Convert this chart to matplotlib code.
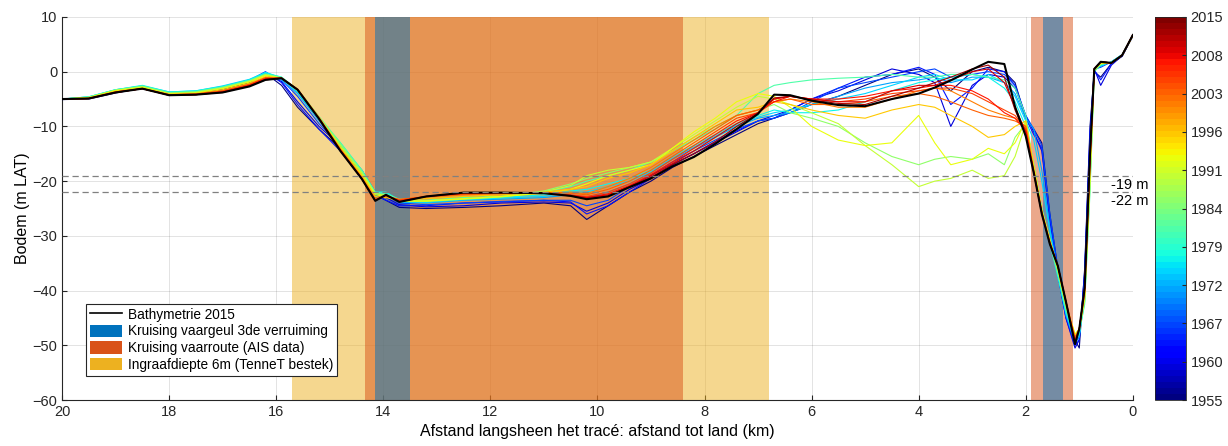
import numpy as np
import matplotlib
matplotlib.use("Agg")
import matplotlib.pyplot as plt
from matplotlib.lines import Line2D
from matplotlib.patches import Patch
from matplotlib.colors import Normalize
from matplotlib.cm import ScalarMappable

plt.rcParams['font.family'] = ['Liberation Sans', 'DejaVu Sans']

# afstand tot land (km)
dist = [20.0, 19.5, 19.0, 18.5, 18.0, 17.5, 17.0, 16.5, 16.2, 15.9,
        15.6, 15.2, 14.8, 14.4, 14.15, 13.95, 13.7, 13.2, 12.5, 11.8,
        11.0, 10.5, 10.2, 9.8, 9.4, 9.0, 8.6, 8.2, 7.8, 7.4,
        7.0, 6.7, 6.4, 6.0, 5.5, 5.0, 4.5, 4.0, 3.7, 3.4,
        3.0, 2.7, 2.4, 2.2, 2.0, 1.85, 1.7, 1.55, 1.4, 1.25,
        1.08, 1.0, 0.9, 0.8, 0.72, 0.6, 0.4, 0.2, 0.0]

# survey years (kleur)
years = [1955, 1960, 1964, 1967, 1972, 1975, 1977, 1982, 1986, 1990,
         1993, 1997, 2001, 2003, 2005, 2008, 2010, 2013]

p1955 = [-5.1, -5.0, -3.9, -3.0, -4.0, -3.9, -3.3, -2.0, -0.3, -2.5,
         -6.5, -10.5, -14.0, -18.5, -22.5, -23.5, -24.8, -25.0, -24.8, -24.5,
         -24.0, -24.5, -27.0, -24.5, -22.0, -20.0, -17.5, -15.5, -13.5, -11.5,
         -9.5, -8.5, -7.5, -6.0, -4.5, -2.5, -0.5, 0.5, -1.0, -3.5,
         0.0, 0.8, 0.0, -2.0, -8.5, -10.5, -13.0, -26.0, -36.0, -44.0,
         -49.0, -50.5, -36.0, -10.0, 0.0, -1.0, 1.5, 2.8, 6.5]
p1960 = [-5.0, -4.9, -3.7, -3.1, -4.1, -3.8, -3.2, -1.8, -0.2, -1.8,
         -5.5, -10.0, -13.5, -18.0, -22.0, -23.0, -24.3, -24.7, -24.5, -24.0,
         -23.8, -24.0, -25.5, -24.0, -21.5, -19.5, -17.0, -15.0, -13.0, -11.0,
         -9.0, -8.0, -7.0, -5.0, -3.5, -1.5, 0.5, -0.5, -2.0, -10.0,
         -2.5, -0.5, -1.0, -3.0, -8.0, -11.0, -14.5, -27.0, -37.0, -45.0,
         -50.5, -49.0, -37.0, -12.0, 0.5, -2.5, 1.2, 2.9, 6.6]
p1964 = [-5.0, -4.8, -3.6, -3.0, -4.0, -3.8, -3.1, -1.6, 0.0, -2.0,
         -6.0, -10.5, -14.5, -18.5, -22.5, -23.5, -24.5, -24.5, -24.0, -23.8,
         -23.5, -23.8, -26.0, -24.5, -22.0, -19.5, -17.0, -15.0, -12.8, -10.8,
         -9.0, -8.5, -7.0, -5.0, -3.0, -1.0, -0.5, 0.8, -0.5, -6.0,
         -3.0, 0.5, 0.0, -2.5, -8.5, -11.5, -14.0, -26.5, -37.0, -45.0,
         -50.0, -49.0, -36.5, -11.0, 0.3, -1.5, 1.5, 2.9, 6.6]
p1967 = [-5.0, -4.8, -3.6, -3.0, -4.0, -3.7, -3.0, -1.7, -0.6, -1.5,
         -4.5, -9.5, -13.5, -18.5, -22.5, -22.5, -24.0, -24.3, -24.0, -23.7,
         -23.5, -23.5, -24.5, -23.5, -21.0, -19.0, -16.5, -14.5, -12.5, -10.5,
         -9.0, -8.5, -7.5, -5.5, -3.0, -2.0, -1.0, 0.0, 0.5, -1.0,
         -0.5, 0.0, -0.5, -2.5, -8.0, -10.5, -13.5, -26.0, -36.0, -44.0,
         -49.5, -48.5, -38.0, -14.0, 0.5, 0.8, 1.8, 3.0, 6.6]
p1972 = [-5.0, -4.7, -3.5, -2.8, -3.9, -3.6, -2.8, -1.5, -0.3, -1.5,
         -4.0, -9.0, -13.5, -18.5, -22.5, -22.5, -23.8, -24.0, -23.5, -23.3,
         -23.0, -22.5, -23.0, -22.0, -20.5, -18.5, -16.0, -14.0, -12.0, -10.0,
         -8.5, -8.0, -7.5, -6.0, -4.5, -3.0, -2.0, -1.5, -1.0, -2.0,
         -1.0, -1.0, -2.0, -4.0, -8.5, -10.5, -18.0, -28.5, -37.0, -44.5,
         -49.5, -48.5, -40.0, -16.0, 0.3, 1.0, 1.8, 3.1, 6.6]
p1975 = [-5.0, -4.6, -3.3, -2.6, -3.7, -3.5, -2.6, -1.4, -0.1, -1.2,
         -3.8, -8.8, -13.3, -18.2, -22.2, -22.2, -23.8, -23.9, -23.4, -23.1,
         -22.8, -22.0, -22.0, -21.0, -20.0, -18.3, -15.8, -13.8, -11.8, -9.8,
         -8.3, -7.5, -7.0, -6.0, -5.0, -4.0, -2.5, -1.0, -0.5, -1.5,
         -1.5, -0.5, -2.0, -4.5, -9.0, -12.5, -20.0, -29.0, -37.0, -44.0,
         -49.0, -48.0, -41.0, -18.0, 0.4, 1.1, 1.8, 3.1, 6.6]
p1977 = [-5.0, -4.6, -3.3, -2.5, -3.7, -3.5, -2.7, -1.5, -0.2, -1.0,
         -3.5, -8.5, -13.0, -18.0, -22.0, -22.0, -23.5, -23.7, -23.3, -23.0,
         -22.5, -21.8, -21.5, -20.5, -19.5, -18.0, -15.5, -13.5, -11.5, -9.5,
         -8.0, -7.0, -7.5, -7.5, -7.0, -5.5, -3.5, -2.0, -1.5, -1.0,
         -0.5, -1.0, -3.0, -5.5, -10.0, -17.0, -25.0, -31.0, -37.5, -44.0,
         -49.0, -48.0, -42.0, -20.0, 0.5, 1.2, 1.8, 3.1, 6.6]
p1982 = [-5.0, -4.6, -3.3, -2.6, -3.8, -3.6, -2.8, -1.6, -0.4, -1.0,
         -3.2, -8.2, -13.0, -18.0, -22.0, -22.3, -23.3, -23.5, -23.0, -22.8,
         -22.0, -21.0, -20.0, -19.0, -18.0, -16.5, -14.5, -12.5, -10.5, -8.0,
         -4.0, -2.5, -2.0, -1.5, -1.2, -1.0, -0.5, -1.0, -1.0, -0.5,
         -0.5, -1.0, -1.5, -3.0, -8.0, -17.5, -26.0, -31.5, -37.0, -43.5,
         -48.5, -47.5, -42.5, -22.0, 0.0, 1.3, 1.7, 3.0, 6.6]
p1986 = [-5.0, -4.7, -3.4, -2.7, -3.9, -3.7, -2.9, -1.7, -0.5, -1.1,
         -3.3, -8.3, -13.2, -18.3, -22.2, -22.5, -23.5, -23.6, -23.2, -22.8,
         -21.8, -20.5, -19.5, -18.5, -17.5, -16.5, -14.5, -12.0, -10.0, -8.0,
         -7.0, -6.0, -7.5, -8.5, -10.0, -13.0, -15.5, -17.0, -16.0, -15.5,
         -16.0, -15.0, -17.0, -12.0, -9.5, -17.0, -25.5, -31.0, -36.5, -43.0,
         -48.5, -47.0, -42.0, -21.0, 0.2, 1.4, 1.7, 3.0, 6.6]
p1990 = [-5.0, -4.7, -3.4, -2.8, -4.0, -3.8, -3.0, -1.8, -0.6, -1.2,
         -3.4, -8.5, -13.5, -18.5, -22.3, -22.6, -23.6, -23.7, -23.3, -22.9,
         -22.0, -20.8, -19.0, -18.0, -17.5, -16.5, -14.0, -11.5, -9.0, -6.5,
         -4.5, -5.0, -6.0, -7.5, -9.5, -13.5, -17.0, -21.0, -20.0, -19.5,
         -18.0, -19.5, -19.0, -15.5, -9.5, -17.0, -25.0, -30.5, -36.0, -42.5,
         -48.0, -47.0, -41.5, -20.0, 0.3, 1.5, 1.6, 3.0, 6.6]
p1993 = [-5.0, -4.8, -3.5, -2.9, -4.1, -3.9, -3.1, -1.9, -0.7, -1.2,
         -3.4, -8.5, -13.8, -18.8, -22.5, -22.8, -23.7, -23.6, -23.2, -22.8,
         -22.2, -21.5, -20.5, -19.0, -18.0, -17.0, -14.0, -11.0, -8.5, -5.5,
         -4.0, -4.5, -6.5, -10.0, -12.5, -13.5, -13.0, -8.0, -13.0, -17.0,
         -16.0, -14.0, -15.0, -13.0, -9.0, -17.5, -25.5, -31.0, -36.0, -42.5,
         -48.0, -47.0, -41.0, -19.0, 0.4, 1.5, 1.6, 3.0, 6.6]
p1997 = [-5.0, -4.8, -3.6, -3.0, -4.1, -4.0, -3.3, -2.1, -0.9, -1.2,
         -3.2, -8.3, -14.0, -19.0, -22.8, -23.0, -23.5, -23.2, -22.8, -22.5,
         -22.0, -21.5, -21.0, -19.5, -18.5, -17.0, -14.5, -12.0, -9.5, -7.0,
         -6.5, -5.5, -6.0, -7.0, -8.0, -8.5, -7.0, -6.0, -6.5, -8.0,
         -10.0, -12.0, -11.5, -10.0, -9.0, -17.5, -25.5, -31.0, -36.0, -42.5,
         -48.5, -47.0, -41.0, -18.0, 0.5, 1.6, 1.6, 3.0, 6.6]
p2001 = [-5.0, -4.9, -3.7, -3.1, -4.2, -4.1, -3.5, -2.3, -1.1, -1.2,
         -3.2, -8.4, -14.2, -19.3, -23.2, -22.8, -23.3, -22.9, -22.5, -22.3,
         -22.2, -22.0, -22.3, -21.0, -19.5, -17.5, -15.0, -12.5, -10.0, -8.0,
         -7.0, -5.5, -5.0, -5.5, -6.5, -6.5, -5.0, -3.5, -3.0, -3.5,
         -5.5, -7.0, -8.0, -8.5, -10.0, -18.0, -25.5, -31.0, -35.5, -42.0,
         -48.5, -47.0, -40.5, -17.0, 0.5, 1.7, 1.6, 3.0, 6.7]
p2003 = [-5.0, -4.9, -3.7, -3.1, -4.2, -4.1, -3.5, -2.3, -1.1, -1.2,
         -3.2, -8.5, -14.2, -19.4, -23.3, -22.7, -23.4, -22.8, -22.4, -22.2,
         -22.1, -22.2, -22.5, -21.5, -20.0, -18.0, -15.5, -13.0, -10.5, -8.0,
         -7.0, -5.5, -5.0, -6.0, -6.0, -5.5, -4.5, -4.0, -4.5, -5.5,
         -7.0, -8.0, -8.5, -9.0, -10.0, -18.2, -25.7, -31.2, -35.5, -42.0,
         -48.8, -47.0, -40.3, -16.5, 0.5, 1.7, 1.6, 3.0, 6.7]
p2005 = [-5.0, -4.9, -3.7, -3.1, -4.2, -4.1, -3.6, -2.4, -1.2, -1.2,
         -3.2, -8.5, -14.3, -19.5, -23.4, -22.6, -23.5, -22.8, -22.3, -22.2,
         -22.2, -22.5, -22.8, -22.0, -20.5, -18.5, -16.0, -13.5, -11.0, -8.5,
         -7.5, -5.0, -4.5, -5.0, -5.5, -5.0, -4.0, -3.5, -3.0, -3.0,
         -4.0, -5.5, -7.0, -8.0, -10.5, -18.3, -25.8, -31.3, -35.5, -42.0,
         -49.0, -47.0, -40.0, -16.0, 0.5, 1.8, 1.6, 3.0, 6.7]
p2008 = [-5.0, -4.9, -3.8, -3.1, -4.3, -4.2, -3.7, -2.5, -1.3, -1.2,
         -3.3, -8.6, -14.4, -19.6, -23.5, -22.6, -23.6, -22.8, -22.2, -22.1,
         -22.2, -22.6, -23.0, -22.3, -20.8, -18.8, -16.5, -14.0, -11.5, -9.0,
         -7.5, -5.5, -4.5, -5.0, -5.0, -4.5, -3.5, -3.0, -2.5, -2.5,
         -3.5, -5.0, -7.5, -8.5, -10.8, -18.4, -25.9, -31.4, -35.5, -42.0,
         -49.2, -47.0, -39.8, -15.8, 0.5, 1.8, 1.6, 3.0, 6.7]
p2010 = [-5.0, -4.9, -3.8, -3.1, -4.3, -4.2, -3.7, -2.6, -1.4, -1.2,
         -3.3, -8.6, -14.4, -19.6, -23.5, -22.5, -23.7, -22.8, -22.2, -22.1,
         -22.2, -22.6, -23.0, -22.5, -21.0, -19.0, -16.8, -14.5, -12.0, -9.5,
         -7.5, -5.0, -4.5, -5.0, -5.5, -5.5, -3.5, -2.5, -2.5, -1.5,
         0.0, 0.5, -2.0, -6.5, -11.0, -18.4, -25.9, -31.4, -35.5, -42.0,
         -49.5, -47.0, -39.5, -15.5, 0.5, 1.8, 1.6, 3.0, 6.7]
p2013 = [-5.0, -4.9, -3.8, -3.1, -4.3, -4.2, -3.8, -2.6, -1.5, -1.2,
         -3.3, -8.6, -14.5, -19.6, -23.6, -22.5, -23.8, -22.8, -22.1, -22.1,
         -22.2, -22.7, -23.2, -22.7, -21.0, -19.3, -17.0, -15.0, -12.8, -10.0,
         -7.6, -4.8, -4.5, -5.2, -5.8, -6.0, -4.5, -3.0, -2.0, -1.0,
         0.5, 1.2, -1.0, -7.0, -11.5, -18.5, -26.0, -31.5, -35.5, -42.0,
         -49.6, -47.0, -39.5, -15.2, 0.5, 1.8, 1.6, 3.0, 6.7]
profiles = [p1955, p1960, p1964, p1967, p1972, p1975, p1977, p1982, p1986,
            p1990, p1993, p1997, p2001, p2003, p2005, p2008, p2010, p2013]

# Bathymetrie 2015
bathy2015 = [-5.0, -4.9, -3.8, -3.1, -4.3, -4.2, -3.8, -2.7, -1.5, -1.2,
             -3.3, -8.6, -14.5, -19.6, -23.6, -22.5, -23.8, -22.8, -22.1, -22.1,
             -22.2, -22.7, -23.3, -22.8, -21.1, -19.5, -17.3, -15.6, -13.2, -10.5,
             -7.7, -4.2, -4.3, -5.3, -6.1, -6.3, -5.0, -4.0, -2.9, -1.6,
             0.4, 1.8, 1.4, -6.4, -11.8, -18.5, -26.0, -31.5, -35.5, -42.0,
             -49.8, -47.0, -39.5, -15.0, 0.5, 1.8, 1.6, 3.0, 6.7]

# zones (km)
ingraaf = (15.7, 6.8)
vaarroute = [(14.35, 8.4), (1.9, 1.12)]
vaargeul = [(14.15, 13.5), (1.68, 1.31)]

cb_ticks = [1955, 1960, 1967, 1972, 1979, 1984, 1991, 1996, 2003, 2008, 2015]

c_blue = '#0072BD'
c_orange = '#D95319'
c_yellow = '#EDB120'

fig = plt.figure(figsize=(12.28, 4.46), dpi=100)
ax = fig.add_axes([0.0505, 0.103, 0.872, 0.859])
cax = fig.add_axes([0.9406, 0.103, 0.025, 0.859])

ax.axvspan(ingraaf[0], ingraaf[1], color=c_yellow, alpha=0.5, lw=0, zorder=1)
for a, b in vaarroute:
    ax.axvspan(a, b, color=c_orange, alpha=0.5, lw=0, zorder=1)
for a, b in vaargeul:
    ax.axvspan(a, b, color=c_blue, alpha=0.5, lw=0, zorder=1)

cmap = plt.get_cmap('jet', 64)
norm = Normalize(1955, 2015)
for yr, prof in zip(years, profiles):
    ax.plot(dist, prof, color=cmap(norm(yr)), lw=0.8, zorder=3)
ax.plot(dist, bathy2015, color='black', lw=1.5, zorder=4)

ax.axhline(-19, color='#808080', ls='--', lw=0.9, dashes=(5, 3), zorder=5)
ax.axhline(-22, color='#808080', ls='--', lw=0.9, dashes=(5, 3), zorder=5)
ax.text(0.4, -19.4, '-19 m', ha='left', va='top', fontsize=10.5, clip_on=False)
ax.text(0.4, -22.3, '-22 m', ha='left', va='top', fontsize=10.5, clip_on=False)

ax.set_xlim(20, 0)
ax.set_ylim(-60, 10)
ax.set_xticks(np.arange(20, -1, -2))
ax.set_yticks(np.arange(-60, 11, 10))
ax.grid(True, color='#262626', alpha=0.15, lw=0.6)
ax.set_axisbelow(True)
ax.tick_params(direction='in', labelsize=10.5, colors='#262626')
for s in ['top', 'right']:
    ax.spines[s].set_visible(False)
for s in ['left', 'bottom']:
    ax.spines[s].set_color('#262626')
ax.set_xlabel('Afstand langsheen het tracé: afstand tot land (km)', fontsize=11.5, labelpad=4)
ax.set_ylabel('Bodem (m LAT)', fontsize=11.5, labelpad=2)

handles = [Line2D([0], [0], color='black', lw=1.2),
           Patch(facecolor=c_blue), Patch(facecolor=c_orange), Patch(facecolor=c_yellow)]
labels = ['Bathymetrie 2015', 'Kruising vaargeul 3de verruiming',
          'Kruising vaarroute (AIS data)', 'Ingraafdiepte 6m (TenneT bestek)']
leg = ax.legend(handles, labels, loc='lower left', bbox_to_anchor=(0.022, 0.063),
                fontsize=9.8, fancybox=False, framealpha=1, edgecolor='#262626',
                borderpad=0.3, labelspacing=0.2, handlelength=2.4, handleheight=1.0,
                handletextpad=0.4, borderaxespad=0)
leg.get_frame().set_linewidth(0.8)
leg.set_zorder(10)

sm = ScalarMappable(norm=norm, cmap=cmap)
cb = fig.colorbar(sm, cax=cax)
cb.set_ticks(np.linspace(1955, 2015, 11))
cb.set_ticklabels([str(t) for t in cb_ticks])
cb.ax.tick_params(direction='in', labelsize=10.5, colors='#262626', length=3)
cb.outline.set_edgecolor('#262626')
cb.outline.set_linewidth(0.6)

fig.savefig('out.png', dpi=100)
